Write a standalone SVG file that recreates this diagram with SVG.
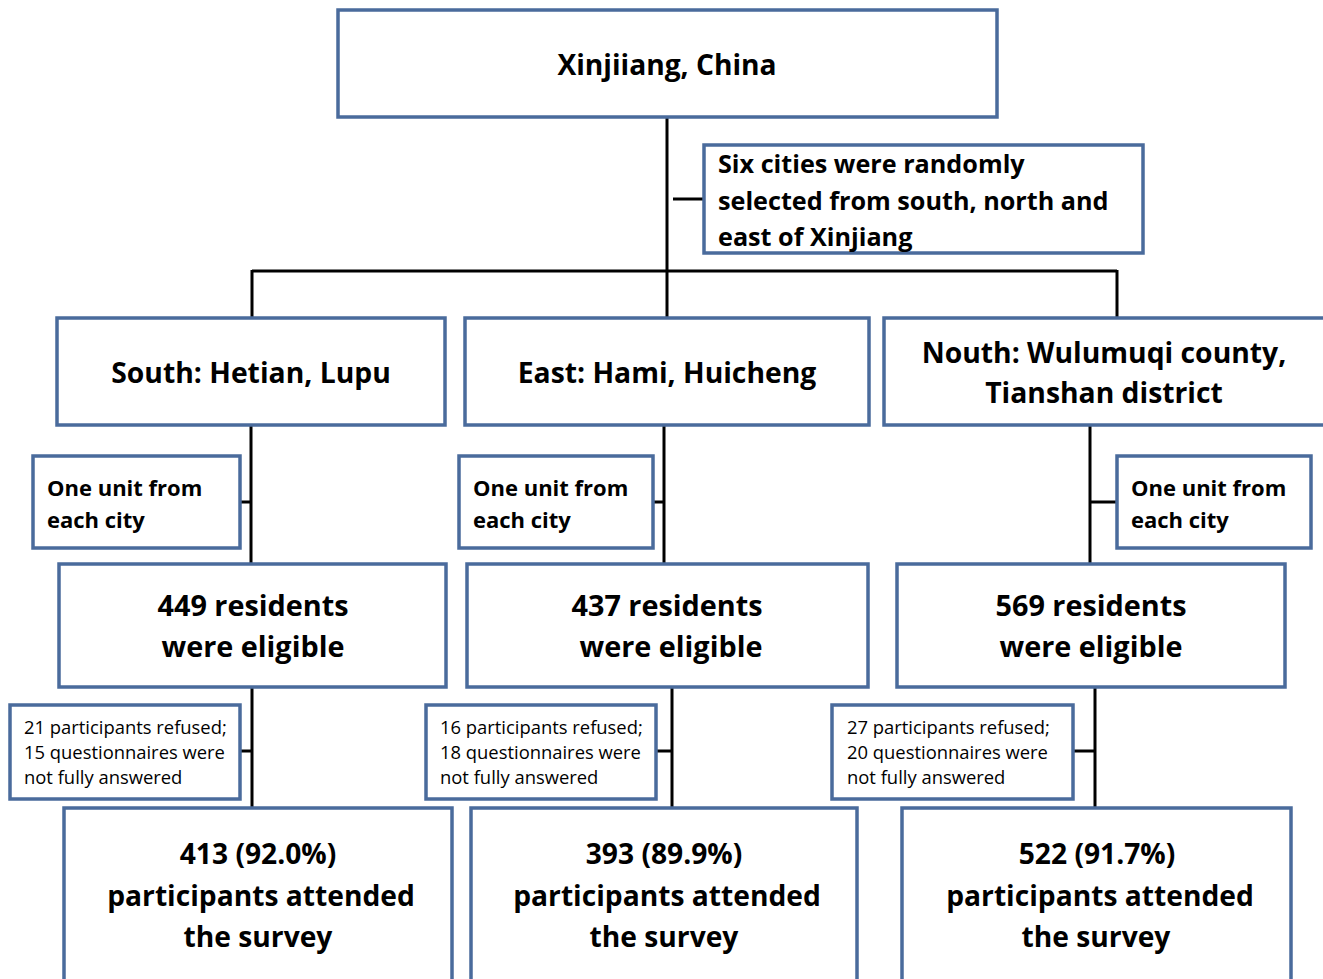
<svg xmlns="http://www.w3.org/2000/svg" width="1323" height="979" viewBox="0 0 1323 979">
<style>
.box{fill:#fff;stroke:#4a6b9c;stroke-width:3.5}
.c{stroke:#000;stroke-width:3;fill:none}
text{font-family:"Open Sans","Noto Sans",sans-serif;fill:#000}
.b{font-weight:bold}
.m{text-anchor:middle}
.t1{font-size:28.2px}
.t2{font-size:25.2px}
.t3{font-size:28.3px}
.t4{font-size:22px}
.t5{font-size:28.8px}
.t6{font-size:18.4px}
.t7{font-size:28.2px}
</style>
<rect width="1323" height="979" fill="#fff"/>
<g id="connectors">
<path class="c" d="M667 117V317M673 199H704M252 271H1117M252 270V317M1117 270V317"/>
<path class="c" d="M251 425V564M240 502H251M664 425V564M653 502H664M1090 425V564M1090 502H1117"/>
<path class="c" d="M252 687V808M240 751H252M672 687V808M656 751H672M1095 687V808M1073 751H1095"/>
</g>
<g id="n-top"><rect class="box" x="338" y="10" width="659" height="107"/><text class="b m t1" x="667" y="75">Xinjiiang, China</text></g>
<g id="n-six"><rect class="box" x="704" y="145" width="439" height="108"/><text class="b t2" x="718"><tspan x="718" y="173">Six cities were randomly</tspan><tspan x="718" y="210">selected from south, north and</tspan><tspan x="718" y="246">east of Xinjiang</tspan></text></g>
<g id="n-south"><rect class="box" x="57" y="318" width="388" height="107"/><text class="b m t3" x="251" y="383">South: Hetian, Lupu</text></g>
<g id="n-east"><rect class="box" x="465" y="318" width="404" height="107"/><text class="b m t3" x="667" y="383">East: Hami, Huicheng</text></g>
<g id="n-north"><rect class="box" x="884" y="318" width="445" height="107"/><text class="b m t3"><tspan x="1104" y="363">Nouth: Wulumuqi county,</tspan><tspan x="1104" y="403">Tianshan district</tspan></text></g>
<g id="n-unit1"><rect class="box" x="33" y="456" width="207" height="92"/><text class="b t4"><tspan x="47" y="496">One unit from</tspan><tspan x="47" y="528">each city</tspan></text></g>
<g id="n-unit2"><rect class="box" x="459" y="456" width="194" height="92"/><text class="b t4"><tspan x="473" y="496">One unit from</tspan><tspan x="473" y="528">each city</tspan></text></g>
<g id="n-unit3"><rect class="box" x="1117" y="456" width="194" height="92"/><text class="b t4"><tspan x="1131" y="496">One unit from</tspan><tspan x="1131" y="528">each city</tspan></text></g>
<g id="n-elig1"><rect class="box" x="59" y="564" width="387" height="123"/><text class="b m t5"><tspan x="253" y="616">449 residents</tspan><tspan x="253" y="657">were eligible</tspan></text></g>
<g id="n-elig2"><rect class="box" x="467" y="564" width="401" height="123"/><text class="b m t5"><tspan x="667" y="616">437 residents</tspan><tspan x="671" y="657">were eligible</tspan></text></g>
<g id="n-elig3"><rect class="box" x="897" y="564" width="388" height="123"/><text class="b m t5"><tspan x="1091" y="616">569 residents</tspan><tspan x="1091" y="657">were eligible</tspan></text></g>
<g id="n-ref1"><rect class="box" x="10" y="705" width="230" height="94"/><text class="t6"><tspan x="24" y="734">21 participants refused;</tspan><tspan x="24" y="759">15 questionnaires were</tspan><tspan x="24" y="784">not fully answered</tspan></text></g>
<g id="n-ref2"><rect class="box" x="426" y="705" width="230" height="94"/><text class="t6"><tspan x="440" y="734">16 participants refused;</tspan><tspan x="440" y="759">18 questionnaires were</tspan><tspan x="440" y="784">not fully answered</tspan></text></g>
<g id="n-ref3"><rect class="box" x="832" y="705" width="241" height="94"/><text class="t6"><tspan x="847" y="734">27 participants refused;</tspan><tspan x="847" y="759">20 questionnaires were</tspan><tspan x="847" y="784">not fully answered</tspan></text></g>
<g id="n-res1"><rect class="box" x="64" y="808" width="388" height="190"/><text class="b m t7"><tspan x="258" y="864">413 (92.0%)</tspan><tspan x="261" y="906">participants attended</tspan><tspan x="258" y="947">the survey</tspan></text></g>
<g id="n-res2"><rect class="box" x="471" y="808" width="386" height="190"/><text class="b m t7"><tspan x="664" y="864">393 (89.9%)</tspan><tspan x="667" y="906">participants attended</tspan><tspan x="664" y="947">the survey</tspan></text></g>
<g id="n-res3"><rect class="box" x="902" y="808" width="389" height="190"/><text class="b m t7"><tspan x="1097" y="864">522 (91.7%)</tspan><tspan x="1100" y="906">participants attended</tspan><tspan x="1096" y="947">the survey</tspan></text></g>
</svg>
